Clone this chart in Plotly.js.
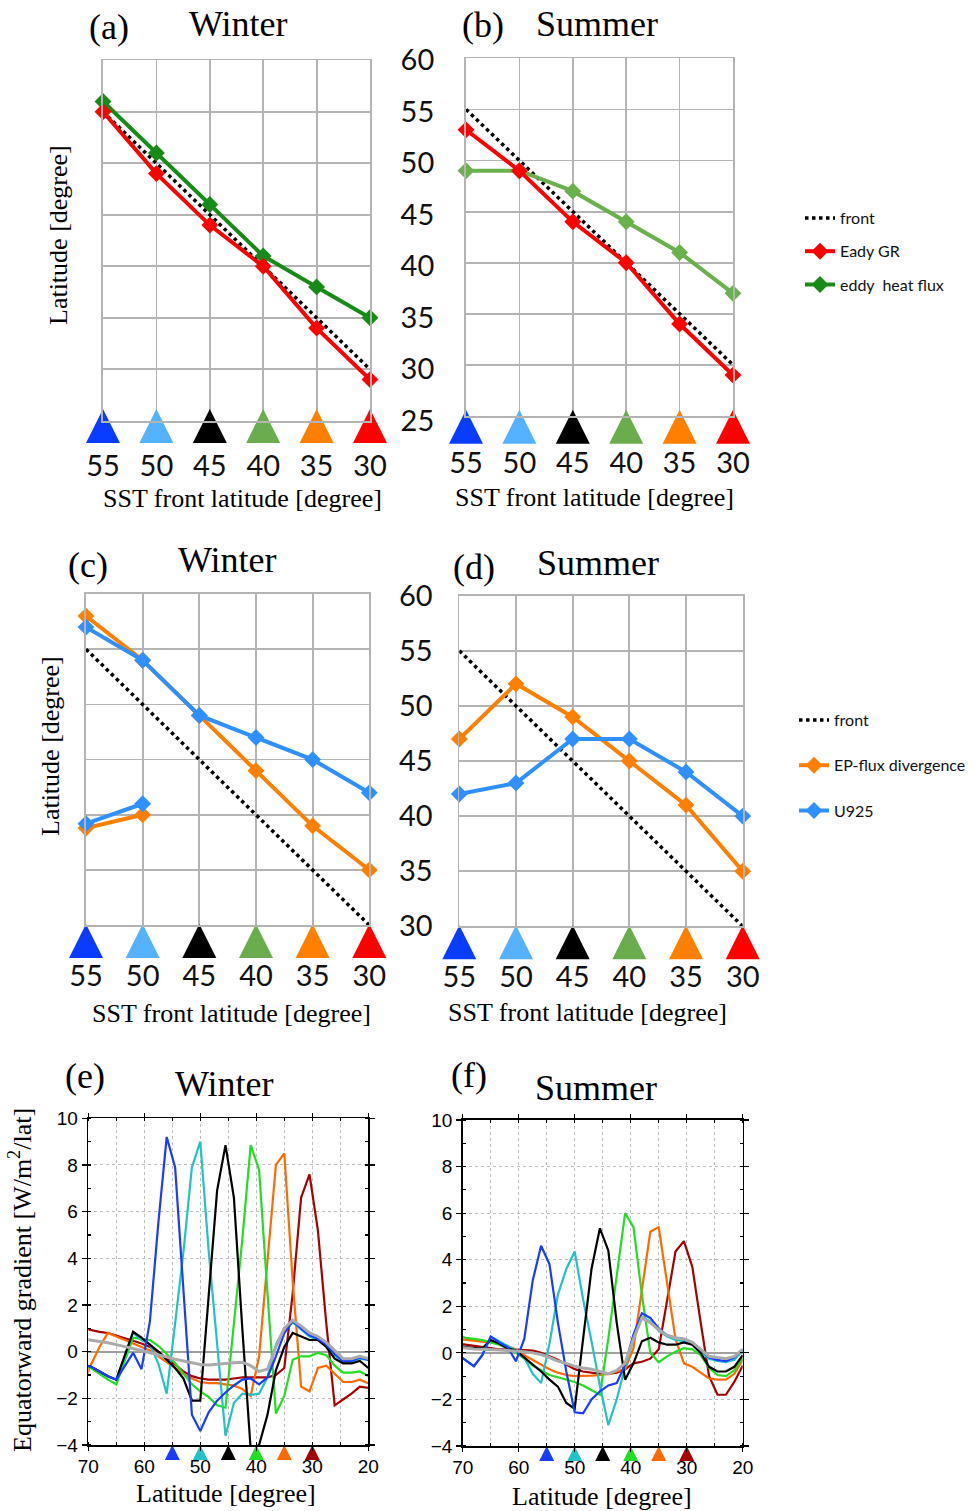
<!DOCTYPE html>
<html>
<head>
<meta charset="utf-8">
<script src="https://cdn.plot.ly/plotly-3.0.1.min.js"></script>
<style>
  html, body { margin: 0; padding: 0; background: #ffffff; }
  #chart { width: 979px; height: 1511px; }
</style>
</head>
<body>
<div id="chart"></div>
<script>
// ---------- SST front experiments ----------
const sstFront = [55, 50, 45, 40, 35, 30];
const sstTicks = ['55', '50', '45', '40', '35', '30'];
const frontColors = ['#0a3cff', '#55b2ff', '#000000', '#6aac4e', '#ff7f00', '#ff0000'];

// (a) Winter: latitude of maximum Eady growth rate / eddy heat flux
const winterEady = [55, 49, 44, 40, 34, 29];
const winterHeatFlux = [56, 51, 46, 41, 38, 35];
// (b) Summer
const summerEady = [53, 49, 44, 40, 34, 29];
const summerHeatFlux = [49, 49, 47, 44, 41, 37];

// (c) Winter: EP-flux divergence and U925 maxima (with a secondary branch)
const winterEP = [58, 54, 49, 44, 39, 35];
const winterU925 = [57, 54, 49, 47, 45, 42];
const winterBranchFront = [55, 50];
const winterEPBranch = [38.8, 40];
const winterU925Branch = [39.2, 41];
// (d) Summer
const summerEP = [47, 52, 49, 45, 41, 35];
const summerU925 = [42, 43, 47, 47, 44, 40];

// ---------- (e)/(f) equatorward gradient profiles ----------
const lat = [71, 69.5, 68, 66.5, 65, 63.5, 62, 60.5, 59, 57.5, 56, 54.5, 53, 51.5, 50, 48.5, 47, 45.5,
             44, 42.5, 41, 39.5, 38, 36.5, 35, 33.5, 32, 30.5, 29, 27.5, 26, 24.5, 23, 21.5, 20];

const winterGrad55 = [-0.55, -0.65, -0.85, -1.05, -1.2, -0.6, -0.05, -0.75, 1.3, 5.5, 9.2, 7.9, 2.8, -2.7, -3.4, -2.6, -2.1, -1.75,
                      -1.45, -1.2, -1.15, -1.4, -1.1, -0.2, 0.8, 1.3, 1.0, 0.7, 0.55, 0.3, -0.1, -0.4, -0.4, -0.25, -0.35];
const winterGrad50 = [-0.55, -0.65, -0.85, -1.05, -1.2, -0.2, 0.8, 0.5, 0.3, -0.5, -1.8, 1.2, 4.3, 7.9, 9.0, 4.3, 0.5, -3.6,
                      -2.2, -1.8, -1.85, -1.8, -1.1, 0.3, 1.0, 1.25, 0.95, 0.65, 0.5, 0.25, -0.15, -0.45, -0.45, -0.3, -0.35];
const winterGrad45 = [-0.55, -0.65, -0.85, -1.05, -1.2, -0.2, 0.85, 0.6, 0.3, 0.0, -0.35, -0.7, -1.15, -2.1, -2.1, 2.4, 6.9, 8.85,
                      6.6, 1.0, -4.2, -4.0, -2.7, -0.8, 0.2, 0.8, 0.65, 0.5, 0.5, 0.2, -0.3, -0.5, -0.5, -0.4, -0.7];
const winterGrad40 = [-0.6, -0.7, -0.95, -1.2, -1.4, -0.4, 0.6, 0.55, 0.5, 0.25, -0.1, -0.5, -0.95, -1.4, -1.7, -1.95, -2.3, -2.4,
                      1.2, 4.8, 8.85, 7.8, 2.5, -2.65, -1.9, -0.35, -0.2, -0.2, -0.05, -0.15, -0.6, -0.9, -0.9, -0.85, -1.05];
const winterGrad35 = [-1.4, -0.55, 0.2, 0.8, 0.65, 0.5, 0.35, 0.2, 0.05, -0.2, -0.45, -0.7, -0.95, -1.15, -1.3, -1.35, -1.35, -1.4,
                      -1.45, -1.6, -1.9, -0.2, 3.9, 8.0, 8.5, 3.0, -1.5, -1.7, -0.7, -0.6, -0.95, -1.3, -1.3, -1.2, -1.35];
const winterGrad30 = [1.0, 0.92, 0.85, 0.8, 0.7, 0.58, 0.47, 0.35, 0.2, 0.0, -0.3, -0.55, -0.85, -1.05, -1.15, -1.2, -1.2, -1.2,
                      -1.15, -1.1, -1.1, -1.1, -1.1, -1.0, -0.7, 2.5, 6.6, 7.6, 5.2, 1.2, -2.3, -2.05, -1.8, -1.5, -1.55];
const winterGradCtl = [0.55, 0.5, 0.45, 0.38, 0.3, 0.22, 0.15, 0.05, -0.05, -0.15, -0.25, -0.32, -0.4, -0.48, -0.55, -0.57, -0.55, -0.5,
                       -0.48, -0.45, -0.6, -0.85, -0.75, 0.2, 1.0, 1.35, 1.1, 0.8, 0.65, 0.4, 0.05, -0.3, -0.3, -0.2, -0.3];

const summerGrad55 = [-0.05, -0.3, -0.57, -0.1, 0.7, 0.45, 0.25, -0.36, 0.6, 3.1, 4.6, 3.8, 1.3, -0.8, -2.55, -2.6, -2.0, -1.65,
                      -1.4, -1.3, -0.5, 0.8, 1.7, 1.5, 1.05, 0.75, 0.65, 0.6, 0.45, 0.15, -0.2, -0.3, -0.35, -0.2, 0.15];
const summerGrad50 = [-0.05, -0.3, -0.57, -0.1, 0.7, 0.5, 0.3, 0.1, -0.2, -0.9, -1.3, 0.4, 2.5, 3.6, 4.35, 2.3, 0.5, -1.4,
                      -3.1, -2.0, -0.6, 0.6, 1.55, 1.35, 0.95, 0.7, 0.55, 0.5, 0.35, 0.05, -0.25, -0.35, -0.4, -0.3, 0.1];
const summerGrad45 = [0.3, 0.25, 0.2, 0.2, 0.55, 0.4, 0.2, 0.1, -0.2, -0.5, -0.8, -1.15, -1.45, -2.15, -2.4, 0.6, 3.6, 5.35,
                      4.4, 1.3, -1.15, -0.45, 0.5, 0.65, 0.45, 0.35, 0.35, 0.45, 0.35, 0.0, -0.6, -0.8, -0.8, -0.6, -0.1];
const summerGrad40 = [0.75, 0.65, 0.6, 0.55, 0.45, 0.35, 0.2, 0.0, -0.25, -0.55, -0.75, -0.95, -1.05, -1.15, -1.25, -1.4, -1.6, -1.8,
                      0.6, 3.4, 6.0, 5.4, 2.5, 0.0, -0.4, -0.15, 0.05, 0.2, 0.15, -0.1, -0.65, -0.95, -1.0, -0.75, -0.2];
const summerGrad35 = [0.6, 0.55, 0.5, 0.48, 0.45, 0.4, 0.3, 0.15, -0.1, -0.3, -0.5, -0.7, -0.85, -0.95, -1.0, -1.0, -0.98, -0.95,
                      -0.9, -0.8, -0.7, 0.2, 2.7, 5.2, 5.4, 3.0, 0.6, -0.45, -0.6, -0.85, -1.1, -1.15, -1.15, -0.9, -0.3];
const summerGrad30 = [0.4, 0.35, 0.3, 0.25, 0.2, 0.15, 0.15, 0.15, 0.12, 0.1, 0.0, -0.15, -0.3, -0.5, -0.7, -0.8, -0.86, -0.9,
                      -0.9, -0.85, -0.7, -0.45, -0.38, -0.25, 0.15, 2.3, 4.35, 4.8, 3.7, 1.3, -1.0, -1.8, -1.8, -1.25, -0.55];
const summerGradCtl = [0.25, 0.2, 0.17, 0.15, 0.15, 0.12, 0.1, 0.08, 0.05, 0.0, -0.07, -0.2, -0.35, -0.45, -0.57, -0.65, -0.7, -0.8,
                       -0.9, -0.75, -0.45, 0.6, 1.5, 1.3, 1.0, 0.75, 0.65, 0.6, 0.45, 0.15, -0.15, -0.2, -0.25, -0.15, 0.15];

const profileColors = ['#1a3cff', '#22c2c6', '#000000', '#22dd22', '#ff6a00', '#a60000'];
const ctlColor = '#aaaaaa';

// ---------- helpers ----------
const W = 979, H = 1511;
const fx = p => p / W;        // pixel -> paper x
const fy = p => 1 - p / H;    // pixel -> paper y

const RED = '#ff0000', DKGREEN = '#178a17', LTGREEN = '#6ab04c', ORANGE = '#ff7f00', BLUE = '#3090ff';
const SERIF = 'Liberation Serif, Times New Roman, serif';
const SANS = 'Lato, Carlito, sans-serif';
const HELV = 'Liberation Sans, Arial, sans-serif';
const GRID = '#b4b4b4';

const traces = [];

function frontTrace(xa, ya, legend, show) {
  return {
    x: sstFront, y: sstFront, xaxis: xa, yaxis: ya, mode: 'lines', name: 'front',
    line: { color: '#000000', width: 3.5, dash: 'dot' },
    legend: legend, showlegend: show, legendgroup: legend + 'front', legendrank: 1, hoverinfo: 'skip'
  };
}
function seriesTrace(x, y, xa, ya, color, name, legend, show, rank) {
  return {
    x: x, y: y, xaxis: xa, yaxis: ya, mode: 'lines+markers', name: name,
    line: { color: color, width: 4 },
    marker: { symbol: 'diamond', size: 13, color: color },
    legend: legend, showlegend: show, legendgroup: legend + name, legendrank: rank,
    cliponaxis: false
  };
}
// coloured SST-front markers hanging from the bottom of each axis (apex at `level`)
function frontMarkers(xa, ya, level, size, colors) {
  return {
    x: sstFront, y: sstFront.map(() => level), xaxis: xa, yaxis: ya, mode: 'markers',
    marker: { symbol: 'arrow-up', size: size, color: colors, line: { width: 0 } },
    showlegend: false, cliponaxis: false, hoverinfo: 'skip'
  };
}

// (a)
traces.push(frontTrace('x', 'y', 'legend', true));
traces.push(seriesTrace(sstFront, winterHeatFlux, 'x', 'y', DKGREEN, 'eddy  heat flux', 'legend', true, 3));
traces.push(seriesTrace(sstFront, winterEady, 'x', 'y', RED, 'Eady GR', 'legend', true, 2));
traces.push(frontMarkers('x', 'y', 26.15, 34, frontColors));
// (b)
traces.push(frontTrace('x2', 'y2', 'legend', false));
traces.push(seriesTrace(sstFront, summerHeatFlux, 'x2', 'y2', LTGREEN, 'eddy  heat flux', 'legend', false, 3));
traces.push(seriesTrace(sstFront, summerEady, 'x2', 'y2', RED, 'Eady GR', 'legend', false, 2));
traces.push(frontMarkers('x2', 'y2', 25.6, 34, frontColors));
// (c)
traces.push(frontTrace('x3', 'y3', 'legend2', true));
traces.push(seriesTrace(sstFront, winterEP, 'x3', 'y3', ORANGE, 'EP-flux divergence', 'legend2', true, 2));
traces.push(seriesTrace(winterBranchFront, winterEPBranch, 'x3', 'y3', ORANGE, 'EP-flux divergence', 'legend2', false, 2));
traces.push(seriesTrace(sstFront, winterU925, 'x3', 'y3', BLUE, 'U925', 'legend2', true, 3));
traces.push(seriesTrace(winterBranchFront, winterU925Branch, 'x3', 'y3', BLUE, 'U925', 'legend2', false, 3));
traces.push(frontMarkers('x3', 'y3', 30.1, 34, frontColors));
// (d)
traces.push(frontTrace('x4', 'y4', 'legend2', false));
traces.push(seriesTrace(sstFront, summerEP, 'x4', 'y4', ORANGE, 'EP-flux divergence', 'legend2', false, 2));
traces.push(seriesTrace(sstFront, summerU925, 'x4', 'y4', BLUE, 'U925', 'legend2', false, 3));
traces.push(frontMarkers('x4', 'y4', 30.1, 34, frontColors));

// (e), (f) profiles
const winterProfiles = [winterGrad55, winterGrad50, winterGrad45, winterGrad40, winterGrad35, winterGrad30];
const summerProfiles = [summerGrad55, summerGrad50, summerGrad45, summerGrad40, summerGrad35, summerGrad30];
const drawOrder = [5, 4, 3, 1, 2, 0];
function addProfiles(set, ctl, xa, ya) {
  drawOrder.forEach(i => {
    traces.push({ x: lat, y: set[i], xaxis: xa, yaxis: ya, mode: 'lines', showlegend: false,
                  line: { color: profileColors[i], width: 2.2 }, hoverinfo: 'skip' });
  });
  traces.push({ x: lat, y: ctl, xaxis: xa, yaxis: ya, mode: 'lines', showlegend: false,
                line: { color: ctlColor, width: 3 }, hoverinfo: 'skip' });
  traces.push(frontMarkers(xa, ya, -4, 15, profileColors));
}
addProfiles(winterProfiles, winterGradCtl, 'x5', 'y5');
addProfiles(summerProfiles, summerGradCtl, 'x6', 'y6');

// ---------- axes ----------
function frontXAxis(d0, d1, anchor, standoff) {
  return {
    domain: [fx(d0), fx(d1)], anchor: anchor, range: [55, 30],
    tickvals: sstFront, ticktext: sstTicks, ticks: '', ticklabelstandoff: standoff,
    tickfont: { family: SANS, size: 29, color: '#111' },
    showgrid: true, gridcolor: GRID, gridwidth: 1.8, zeroline: false,
    showline: true, mirror: true, linecolor: GRID, linewidth: 1.8, fixedrange: true
  };
}
function latYAxis(top, bottom, lo, anchor, side, labels, standoff) {
  const vals = [];
  for (let v = lo; v <= 60; v += 5) vals.push(v);
  return {
    domain: [fy(bottom), fy(top)], anchor: anchor, range: [lo, 60], tickvals: vals,
    side: side, showticklabels: labels, ticks: '', ticklabelstandoff: standoff,
    tickfont: { family: SANS, size: 29, color: '#111' },
    showgrid: true, gridcolor: GRID, gridwidth: 1.8, zeroline: false,
    showline: true, mirror: true, linecolor: GRID, linewidth: 1.8, fixedrange: true
  };
}
function gradXAxis(d0, d1, anchor) {
  return {
    domain: [fx(d0), fx(d1)], anchor: anchor, range: [70, 20], dtick: 10, tick0: 0,
    ticks: 'outside', ticklen: 4, tickwidth: 1.2, tickcolor: '#000',
    tickfont: { family: HELV, size: 19, color: '#000' },
    showgrid: true, gridcolor: '#bdbdbd', gridwidth: 1, griddash: 'dot',
    minor: { dtick: 5, showgrid: true, gridcolor: '#bdbdbd', gridwidth: 1, griddash: 'dot', ticks: 'inside', ticklen: 3, tickcolor: '#000' },
    zeroline: false, showline: true, mirror: 'ticks', linecolor: '#000', linewidth: 1.6, fixedrange: true
  };
}
function gradYAxis(top, bottom, anchor) {
  return {
    domain: [fy(bottom), fy(top)], anchor: anchor, range: [-4, 10], dtick: 2,
    ticks: 'outside', ticklen: 5, tickwidth: 1.2, tickcolor: '#000',
    tickfont: { family: HELV, size: 19, color: '#000' },
    showgrid: true, gridcolor: '#bdbdbd', gridwidth: 1, griddash: 'dot',
    minor: { dtick: 1, ticks: 'inside', ticklen: 3, tickcolor: '#000' },
    zeroline: true, zerolinecolor: '#a0a0a0', zerolinewidth: 2.2,
    showline: true, mirror: 'ticks', linecolor: '#000', linewidth: 1.6, fixedrange: true
  };
}

// ---------- text ----------
const annotations = [];
function txt(text, x, y, size, family, angle) {
  annotations.push({ text: text, x: fx(x), y: fy(y), xref: 'paper', yref: 'paper',
    xanchor: 'center', yanchor: 'middle', showarrow: false, textangle: angle || 0,
    font: { family: family, size: size, color: '#000' } });
}
txt('(a)', 109, 27, 36, SERIF); txt('Winter', 238, 24, 36, SERIF);
txt('(b)', 483, 25, 36, SERIF); txt('Summer', 597, 24, 36, SERIF);
txt('(c)', 88, 565, 36, SERIF); txt('Winter', 227, 560, 36, SERIF);
txt('(d)', 474, 567, 36, SERIF); txt('Summer', 598, 563, 36, SERIF);
txt('(e)', 85, 1076, 36, SERIF); txt('Winter', 224, 1084, 36, SERIF);
txt('(f)', 469, 1075, 36, SERIF); txt('Summer', 596, 1088, 36, SERIF);

txt('SST front latitude [degree]', 242, 498, 26, SERIF);
txt('SST front latitude [degree]', 594, 497, 26, SERIF);
txt('SST front latitude [degree]', 231, 1013, 26, SERIF);
txt('SST front latitude [degree]', 587, 1012, 26, SERIF);
txt('Latitude [degree]', 226, 1493, 26, SERIF);
txt('Latitude [degree]', 602, 1496, 26, SERIF);
txt('Latitude [degree]', 58, 235, 26, SERIF, -90);
txt('Latitude [degree]', 50, 746, 26, SERIF, -90);
txt('Equatorward gradient [W/m<sup>2</sup>/lat]', 20, 1280, 26, SERIF, -90);

const layout = {
  width: W, height: H, margin: { l: 0, r: 0, t: 0, b: 0 },
  paper_bgcolor: '#ffffff', plot_bgcolor: 'rgba(0,0,0,0)',
  xaxis: frontXAxis(103, 370, 'y', 19),
  yaxis: latYAxis(60.3, 420.8, 25, 'x', 'right', true, 23),
  xaxis2: frontXAxis(466, 733, 'y2', 20),
  yaxis2: latYAxis(58.3, 416, 25, 'x2', 'left', false, 0),
  xaxis3: frontXAxis(86, 369.3, 'y3', 24),
  yaxis3: latYAxis(594, 925.2, 30, 'x3', 'left', false, 0),
  xaxis4: frontXAxis(459.3, 742.7, 'y4', 24),
  yaxis4: latYAxis(595.7, 926.3, 30, 'x4', 'left', true, 19),
  xaxis5: gradXAxis(88.3, 368.3, 'y5'),
  yaxis5: gradYAxis(1118.3, 1445, 'x5'),
  xaxis6: gradXAxis(462.7, 742.7, 'y6'),
  yaxis6: gradYAxis(1120, 1446, 'x6'),
  legend: { x: fx(800), y: fy(201), xanchor: 'left', yanchor: 'top', bgcolor: 'rgba(0,0,0,0)',
            font: { family: SANS, size: 16, color: '#111' }, traceorder: 'grouped', tracegroupgap: 9.5 },
  legend2: { x: fx(794), y: fy(703), xanchor: 'left', yanchor: 'top', bgcolor: 'rgba(0,0,0,0)',
             font: { family: SANS, size: 16, color: '#111' }, traceorder: 'grouped', tracegroupgap: 21.5 },
  annotations: annotations,
  showlegend: true
};

Plotly.newPlot('chart', traces, layout, { staticPlot: true, displayModeBar: false });
</script>
</body>
</html>
